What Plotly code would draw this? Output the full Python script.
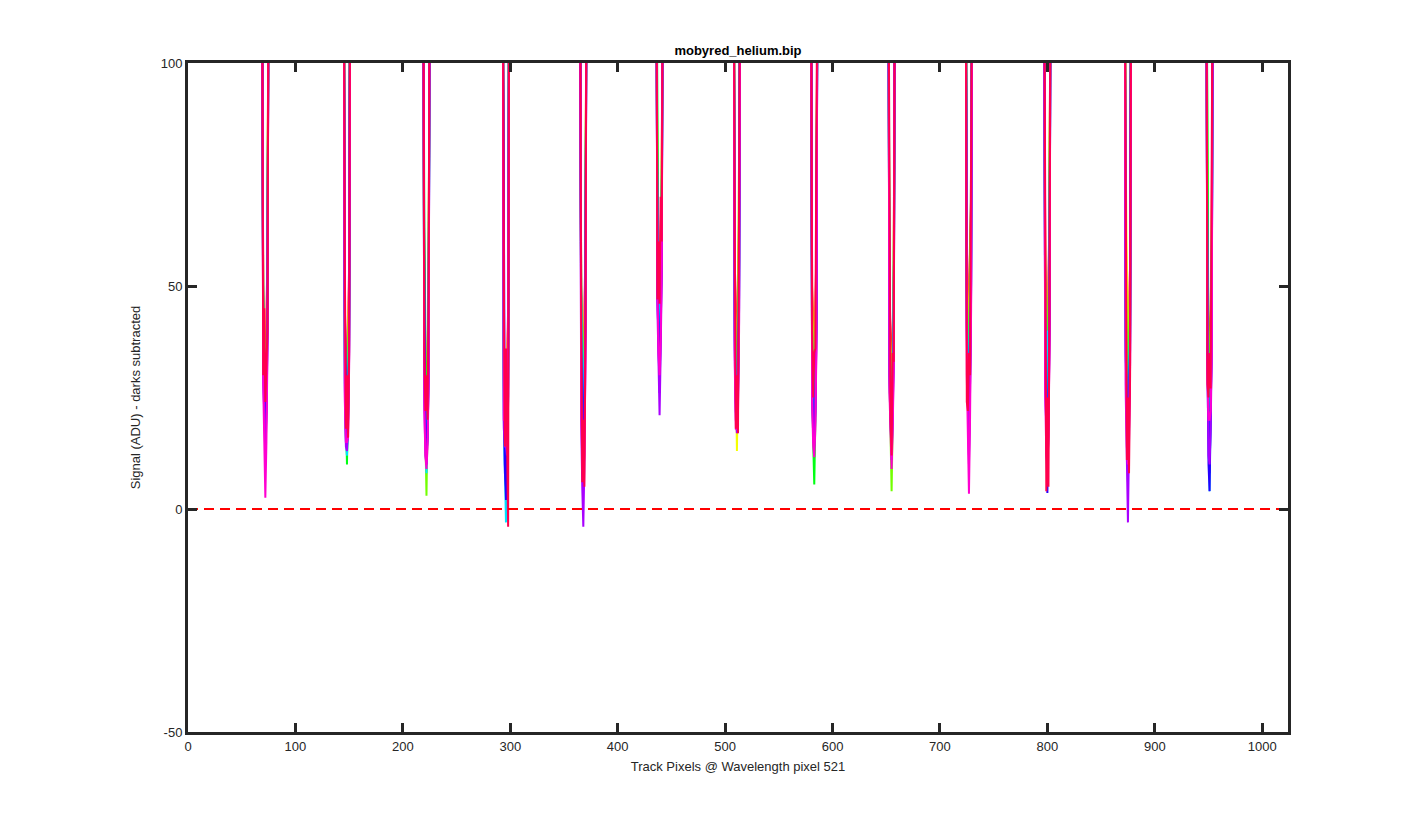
import colorsys
import plotly.graph_objects as go

# ---------------- data ----------------
title_text = "mobyred_helium.bip"
x_label = "Track Pixels @ Wavelength pixel 521"
y_label = "Signal (ADU) - darks subtracted"

x_ticks = [0, 100, 200, 300, 400, 500, 600, 700, 800, 900, 1000]
y_ticks = [-50, 0, 50, 100]
y_tick_text = ["-50", "0", "50", "100"]

track_start = 1
track_end = 1024
off_scale_level = 130          # signal between the gaps (above the plotted range)

# centres of the 13 inter-fibre gaps (track pixels)
dip_centers = [72, 148, 222, 296, 368, 439, 511, 583, 655, 727, 800, 875, 951]
# pixel offsets inside each gap where the signal drops
dip_offsets = [-2, -1, 0, 1, 2]

# one row per series (12 series, hsv order), one 5-value group per gap
series_0 = [[50, 35, 28, 40, 60], [45, 30, 25, 38, 55], [40, 30, 22, 35, 50], [38, 25, 20, 30, 45],
            [50, 35, 30, 42, 60], [65, 55, 50, 62, 75], [55, 40, 35, 45, 65], [50, 38, 30, 42, 60],
            [48, 35, 28, 40, 55], [62, 40, 30, 58, 70], [55, 40, 35, 50, 68], [45, 30, 25, 38, 55],
            [50, 35, 30, 45, 60]]
series_1 = [[48, 32, 25, 38, 58], [42, 28, 22, 35, 52], [38, 27, 20, 33, 48], [35, 22, 18, 28, 42],
            [48, 33, 28, 40, 57], [63, 52, 48, 60, 72], [52, 38, 33, 43, 62], [48, 35, 28, 40, 58],
            [45, 33, 25, 38, 52], [60, 38, 28, 55, 68], [52, 38, 32, 48, 65], [65, 40, 28, 42, 55],
            [52, 33, 28, 42, 55]]
series_2 = [[45, 30, 22, 35, 55], [40, 25, 20, 33, 50], [35, 24, 18, 30, 45], [33, 20, 15, 26, 40],
            [45, 30, 25, 38, 55], [60, 50, 45, 58, 70], [50, 30, 13, 30, 60], [45, 33, 25, 38, 55],
            [42, 30, 22, 35, 50], [55, 35, 25, 50, 65], [50, 35, 30, 45, 62], [78, 45, 25, 40, 52],
            [48, 30, 25, 40, 52]]
series_3 = [[42, 28, 20, 33, 52], [38, 23, 18, 30, 48], [30, 15, 3, 20, 42], [30, 18, 12, 24, 38],
            [42, 28, 22, 36, 52], [58, 48, 42, 55, 68], [48, 30, 20, 32, 58], [42, 30, 22, 35, 52],
            [30, 15, 4, 20, 48], [52, 32, 22, 48, 62], [48, 33, 28, 42, 60], [55, 35, 22, 38, 50],
            [82, 30, 22, 38, 50]]
series_4 = [[40, 25, 19, 30, 50], [35, 20, 10, 25, 45], [63, 30, 15, 25, 40], [28, 16, 10, 22, 35],
            [40, 25, 20, 34, 50], [90, 45, 40, 52, 65], [45, 30, 28, 35, 55], [30, 15, 5.5, 20, 50],
            [55, 25, 18, 30, 45], [50, 30, 20, 30, 60], [45, 21, 25, 40, 58], [40, 20, 6, 25, 45],
            [85, 28, 20, 35, 48]]
series_5 = [[38, 24, 18, 28, 48], [33, 18, 12, 24, 42], [30, 20, 12, 24, 38], [25, 14, 8, 20, 32],
            [50, 30, 18, 32, 48], [55, 44, 38, 50, 62], [42, 28, 25, 32, 52], [35, 22, 15, 28, 48],
            [38, 25, 15, 28, 42], [48, 28, 18, 35, 58], [42, 30, 25, 38, 48], [38, 24, 12, 28, 42],
            [40, 22, 8, 28, 45]]
series_6 = [[36, 22, 18, 26, 46], [30, 16, 12, 22, 40], [28, 15, 8, 20, 35], [22, 5, -3, 15, 30],
            [45, 25, 18, 30, 45], [52, 42, 35, 48, 60], [40, 26, 22, 30, 50], [32, 20, 20, 26, 45],
            [35, 22, 15, 26, 40], [45, 26, 16, 32, 55], [40, 28, 40, 36, 45], [35, 22, 14, 26, 40],
            [38, 18, 4, 24, 42]]
series_7 = [[34, 20, 16, 24, 44], [28, 15, 14, 20, 38], [26, 14, 10, 18, 33], [20, 8, 5, 14, 28],
            [40, 20, 12, 26, 42], [50, 40, 32, 45, 58], [38, 24, 20, 28, 48], [30, 18, 17, 24, 42],
            [33, 20, 14, 24, 38], [42, 24, 15, 30, 52], [36, 20, 12, 30, 42], [33, 20, 12, 24, 38],
            [36, 15, 8, 22, 40]]
series_8 = [[42, 30, 14, 22, 40], [44, 25, 15, 20, 36], [48, 20, 12, 16, 30], [48, 10, 2, 12, 25],
            [35, 15, 7, 22, 40], [48, 35, 26, 40, 55], [36, 22, 18, 26, 45], [28, 17, 17, 22, 40],
            [30, 18, 12, 22, 36], [40, 22, 12, 28, 50], [30, 10, 3.6, 20, 40], [35, 18, 10, 22, 36],
            [35, 10, 4, 20, 38]]
series_9 = [[30, 18, 12, 20, 38], [26, 14, 13, 18, 34], [24, 12, 10, 16, 30], [18, 14, 14, 12, 24],
            [20, 5, -4, 10, 35], [45, 30, 21, 35, 52], [34, 20, 17, 24, 42], [26, 16, 14, 20, 38],
            [28, 16, 11, 20, 34], [38, 20, 10, 26, 48], [28, 14, 8, 18, 38], [25, 8, -3, 15, 33],
            [32, 12, 10, 18, 35]]
series_10 = [[28, 12, 2.5, 15, 36], [24, 15, 15, 16, 32], [22, 12, 9, 14, 28], [20, 20, 20, 14, 26],
             [25, 10, 8, 12, 33], [50, 35, 30, 38, 55], [32, 18, 18, 22, 40], [24, 14, 11.6, 18, 36],
             [26, 14, 9, 18, 32], [30, 12, 3.4, 20, 45], [26, 12, 10, 16, 36], [28, 14, 10, 18, 32],
             [30, 20, 20, 22, 35]]
series_11 = [[30, 45, 24, 33, 40], [55, 18, 30, 16, 35], [35, 22, 30, 20, 48], [52, 14, 36, 11, -4],
             [45, 6, 20, 5, 42], [47, 60, 46, 70, 60], [60, 18, 30, 17, 70], [40, 25, 35, 36, 60],
             [55, 20, 12, 35, 33], [24, 22, 35, 30, 60], [45, 4, 25, 5, 48], [43, 11, 25, 8, 30],
             [28, 25, 35, 27, 60]]

all_series = [series_0, series_1, series_2, series_3, series_4, series_5,
              series_6, series_7, series_8, series_9, series_10, series_11]

# ---------------- figure ----------------
AX = "#262626"
FONT = "Liberation Sans, Arial, Helvetica, sans-serif"

n = len(all_series)
fig = go.Figure()
for i, ser in enumerate(all_series):
    hue = 0.95 * i / (n - 1)
    r, g, b = colorsys.hsv_to_rgb(hue, 1, 1)
    color = f"rgb({int(round(r*255))},{int(round(g*255))},{int(round(b*255))})"
    xs = [track_start]
    ys = [off_scale_level]
    step = dip_offsets[1] - dip_offsets[0]
    for c, vals in zip(dip_centers, ser):
        xs.append(c + dip_offsets[0] - step)
        ys.append(off_scale_level)
        for off, v in zip(dip_offsets, vals):
            xs.append(c + off)
            ys.append(v)
        xs.append(c + dip_offsets[-1] + step)
        ys.append(off_scale_level)
    xs.append(track_end)
    ys.append(off_scale_level)
    fig.add_trace(go.Scatter(x=xs, y=ys, mode="lines",
                             line=dict(color=color, width=2),
                             showlegend=False, hoverinfo="skip"))

# zero reference line
fig.add_trace(go.Scatter(x=[0, track_end], y=[0, 0], mode="lines",
                         line=dict(color="#ff0000", width=2, dash="10px,6px"),
                         showlegend=False, hoverinfo="skip"))

axis_common = dict(showline=True, linecolor=AX, linewidth=3, mirror="ticks",
                   ticks="inside", ticklen=9, tickwidth=3, tickcolor=AX,
                   showgrid=False, zeroline=False,
                   tickfont=dict(family=FONT, size=13, color=AX))

fig.update_xaxes(range=[0, 1024], tickvals=x_ticks,
                 title=dict(text=x_label, font=dict(family=FONT, size=13, color=AX), standoff=10),
                 **axis_common)
fig.update_yaxes(range=[-50, 100], tickvals=y_ticks, ticktext=y_tick_text,
                 title=dict(text=y_label, font=dict(family=FONT, size=13, color=AX), standoff=18),
                 **axis_common)

fig.update_layout(
    width=1425, height=825,
    margin=dict(l=180, r=145, t=55, b=101),
    paper_bgcolor="white", plot_bgcolor="white",
    title=dict(text=f"<b>{title_text}</b>", x=0.5, xanchor="center",
               xref="paper", y=1 - 47/825, yanchor="bottom",
               font=dict(family=FONT, size=13, color="black")),
)

fig.write_html("out.html")
